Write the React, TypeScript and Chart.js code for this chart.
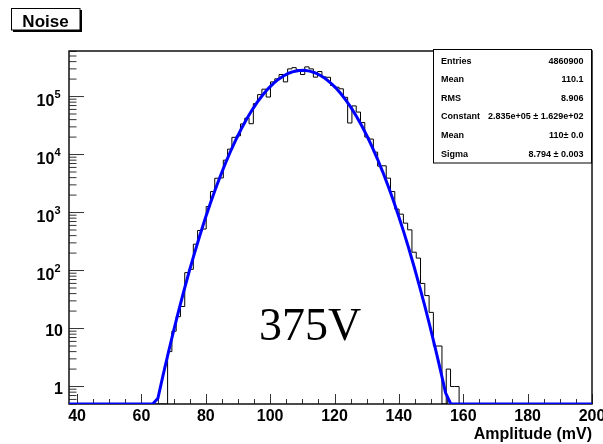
import React, { useEffect, useRef } from "react";
import { Chart, registerables } from "chart.js";

Chart.register(...registerables);

// ---- histogram definition (ROOT TH1: 122 bins on [37.5, 200]) ----
const histXMin = 37.5;
const histXMax = 200;
const histNBins = 122;
const histFirstBin = 23; // index of first non-empty bin
const binCounts = [
  4, 9, 16, 24, 92, 105, 285, 490, 520, 1270,
  2300, 3900, 3950, 8000, 12400, 19800, 21000, 33700, 42400, 34000,
  75500, 108000, 134000, 98000, 179000, 202000, 240000, 179000, 300000, 315000,
  288500, 240000, 325000, 300000, 216000, 270000, 218000, 215000, 155000, 145000,
  136000, 97000, 35000, 69000, 54000, 35600, 20000, 18500, 11000, 6300,
  6400, 3920, 2300, 1145, 938, 657, 503, 207, 164, 60,
  37, 19, 5, 5, 0, 2, 1, 1,
];

// ---- gaussian fit parameters (from the stats box) ----
const fitConstant = 2.835e5;
const fitMean = 110.0;
const fitSigma = 8.794;
const fitNpx = 100;

// ---- axes ----
const yMin = 0.5;
const yMax = 6.1e5;
const xTickValues = [40, 60, 80, 100, 120, 140, 160, 180, 200];
const xTickLabels = ["40", "60", "80", "100", "120", "140", "160", "180", "200"];
const xMinorStep = 5;
const yTickValues = [1, 10, 100, 1000, 10000, 100000];
const yTickBase = ["1", "10", "10", "10", "10", "10"];
const yTickSup = ["", "", "2", "3", "4", "5"];

// ---- texts ----
const titleText = "Noise";
const xAxisTitle = "Amplitude (mV)";
const annotationText = "375V";
const statsNames = ["Entries", "Mean", "RMS", "Constant", "Mean", "Sigma"];
const statsValues = [
  "4860900",
  "110.1",
  "8.906",
  "2.835e+05 \u00b1 1.629e+02",
  "110\u00b1 0.0",
  "8.794 \u00b1 0.003",
];

const SANS = '"Liberation Sans", Arial, Helvetica, sans-serif';
const SERIF = '"Liberation Serif", "Times New Roman", serif';

const rootStyle = {
  id: "rootStyle",
  beforeDatasetsDraw(chart: any) {
    const { ctx, chartArea: a, scales } = chart;
    const xs = scales.x;
    const ys = scales.y;
    ctx.save();
    // tick marks (inside the frame)
    ctx.strokeStyle = "#333";
    ctx.lineWidth = 1;
    ctx.beginPath();
    for (let v = xTickValues[0]; v <= xTickValues[xTickValues.length - 1]; v += xMinorStep) {
      const px = Math.round(xs.getPixelForValue(v)) + 0.5;
      const major = xTickValues.indexOf(v) >= 0;
      ctx.moveTo(px, a.bottom);
      ctx.lineTo(px, a.bottom - (major ? 10 : 5));
    }
    for (let e = -1; e <= 5; e++) {
      for (let m = 1; m <= 9; m++) {
        const v = m * Math.pow(10, e);
        if (v < yMin || v > yMax) continue;
        const py = ys.getPixelForValue(v);
        ctx.moveTo(a.left, py);
        ctx.lineTo(a.left + (m === 1 ? 15 : 7.5), py);
      }
    }
    ctx.stroke();
    // frame
    ctx.strokeStyle = "#111";
    ctx.lineWidth = 1.5;
    ctx.strokeRect(a.left, a.top, a.right - a.left, a.bottom - a.top);
    ctx.restore();
  },
  afterDraw(chart: any) {
    const { ctx, chartArea: a, scales } = chart;
    const xs = scales.x;
    const ys = scales.y;
    ctx.save();
    ctx.fillStyle = "#000";
    // x tick labels
    ctx.font = `bold 16px ${SANS}`;
    ctx.textAlign = "center";
    ctx.textBaseline = "alphabetic";
    xTickValues.forEach((v, i) => {
      ctx.fillText(xTickLabels[i], xs.getPixelForValue(v), 420.5);
    });
    // y tick labels
    yTickValues.forEach((v, i) => {
      const py = ys.getPixelForValue(v);
      if (yTickSup[i] === "") {
        ctx.font = `bold 16px ${SANS}`;
        ctx.textAlign = "right";
        ctx.fillText(yTickBase[i], 63, py + 7.75);
      } else {
        ctx.font = `bold 11px ${SANS}`;
        ctx.textAlign = "right";
        const sw = ctx.measureText(yTickSup[i]).width;
        ctx.fillText(yTickSup[i], 60.5, py + 1.5);
        ctx.font = `bold 16px ${SANS}`;
        ctx.fillText(yTickBase[i], 60.5 - sw, py + 9.3);
      }
    });
    // x axis title
    ctx.font = `bold 16px ${SANS}`;
    ctx.textAlign = "right";
    ctx.fillText(xAxisTitle, a.right, 439);
    // annotation
    ctx.font = `46px ${SERIF}`;
    ctx.textAlign = "left";
    ctx.fillText(annotationText, 259, 340);
    // title box with shadow
    ctx.fillStyle = "#000";
    ctx.fillRect(13, 10, 69, 22);
    ctx.fillStyle = "#fff";
    ctx.fillRect(11.5, 8.5, 68.5, 21.5);
    ctx.strokeStyle = "#000";
    ctx.lineWidth = 1;
    ctx.strokeRect(11.5, 8.5, 68.5, 21.5);
    ctx.fillStyle = "#000";
    ctx.font = `bold 17px ${SANS}`;
    ctx.textAlign = "center";
    ctx.fillText(titleText, 45.5, 26.5);
    // stats box
    const bx = 433.5, by = 49.5, bw = 158, bh = 113.5;
    ctx.fillStyle = "#fff";
    ctx.fillRect(bx, by, bw, bh);
    ctx.strokeStyle = "#000";
    ctx.lineWidth = 1;
    ctx.strokeRect(bx, by, bw, bh);
    ctx.fillStyle = "#000";
    ctx.font = `bold 9px ${SANS}`;
    statsNames.forEach((name, i) => {
      const base = 60.3 + i * 18.6 + 3.2;
      ctx.textAlign = "left";
      ctx.fillText(name, 441, base);
      ctx.textAlign = "right";
      ctx.fillText(statsValues[i], 583.5, base);
    });
    ctx.restore();
  },
};

export default function App() {
  const canvasRef = useRef<HTMLCanvasElement>(null);

  useEffect(() => {
    const canvas = canvasRef.current;
    if (!canvas) return;
    const binWidth = (histXMax - histXMin) / histNBins;
    const histData: { x: number; y: number }[] = [];
    for (let i = 0; i < histNBins; i++) {
      const k = i - histFirstBin;
      const c = k >= 0 && k < binCounts.length ? binCounts[k] : 0;
      histData.push({ x: histXMin + i * binWidth, y: Math.max(c, yMin) });
    }
    histData.push({ x: histXMax, y: yMin });

    const fitData: { x: number; y: number }[] = [];
    for (let j = 0; j <= fitNpx; j++) {
      const x = histXMin + (j * (histXMax - histXMin)) / fitNpx;
      const g = fitConstant * Math.exp(-0.5 * Math.pow((x - fitMean) / fitSigma, 2));
      fitData.push({ x, y: Math.max(g, yMin) });
    }

    const chart = new Chart(canvas, {
      type: "line",
      data: {
        datasets: [
          {
            label: "fit",
            data: fitData,
            borderColor: "#0000ff",
            borderWidth: 3,
            pointRadius: 0,
            fill: false,
            tension: 0,
          },
          {
            label: "hist",
            data: histData,
            borderColor: "#000",
            borderWidth: 1,
            pointRadius: 0,
            fill: false,
            stepped: "before",
          },
        ],
      },
      options: {
        animation: false,
        responsive: false,
        events: [],
        layout: { padding: { left: 69, top: 51, right: 11, bottom: 40 } },
        scales: {
          x: { type: "linear", min: histXMin, max: histXMax, display: false },
          y: { type: "logarithmic", min: yMin, max: yMax, display: false },
        },
        plugins: { legend: { display: false }, tooltip: { enabled: false } },
      },
      plugins: [rootStyle],
    } as any);
    return () => chart.destroy();
  }, []);

  return (
    <div style={{ position: "fixed", left: 0, top: 0, width: 603, height: 444, background: "#fff" }}>
      <canvas ref={canvasRef} width={603} height={444} style={{ display: "block", width: 603, height: 444 }} />
    </div>
  );
}
